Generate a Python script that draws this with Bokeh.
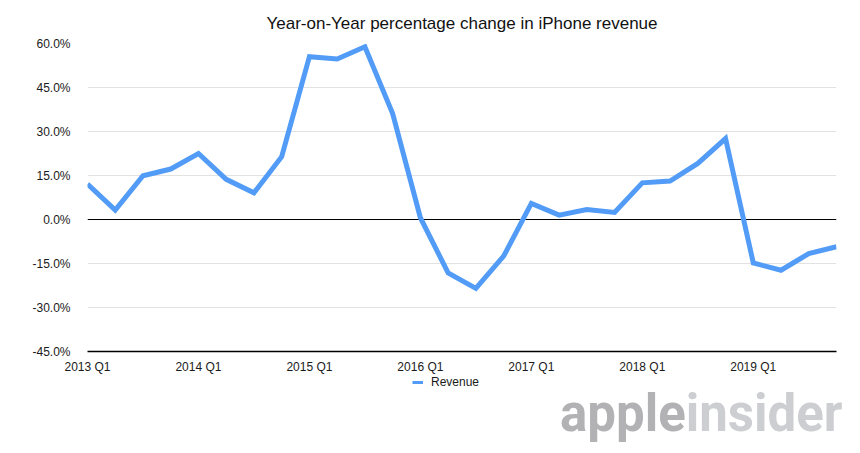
from bokeh.plotting import figure
from bokeh.models import (Range1d, FixedTicker, PrintfTickFormatter, Span,
                          Legend, LegendItem, ColumnDataSource, Div)
from bokeh.layouts import column
from bokeh.embed import file_html
from bokeh.resources import INLINE

title_text = "Year-on-Year percentage change in iPhone revenue"
series_name = "Revenue"
quarters = [
    "2013 Q1", "2013 Q2", "2013 Q3", "2013 Q4",
    "2014 Q1", "2014 Q2", "2014 Q3", "2014 Q4",
    "2015 Q1", "2015 Q2", "2015 Q3", "2015 Q4",
    "2016 Q1", "2016 Q2", "2016 Q3", "2016 Q4",
    "2017 Q1", "2017 Q2", "2017 Q3", "2017 Q4",
    "2018 Q1", "2018 Q2", "2018 Q3", "2018 Q4",
    "2019 Q1", "2019 Q2", "2019 Q3", "2019 Q4",
]
yoy_change = [12.1, 3.2, 14.9, 17.2, 22.5, 13.7, 9.1, 21.4,
              55.5, 54.7, 58.9, 36.1, 0.6, -18.2, -23.5, -12.5,
              5.5, 1.5, 3.4, 2.4, 12.5, 13.1, 19.1, 27.6,
              -14.8, -17.3, -11.6, -9.3]
x_tick_labels = ["2013 Q1", "2014 Q1", "2015 Q1", "2016 Q1", "2017 Q1", "2018 Q1", "2019 Q1"]
y_ticks = [-45, -30, -15, 0, 15, 30, 45, 60]
watermark_a = "apple"
watermark_b = "insider"

FONT = "Liberation Sans"
LINE_COLOR = "#529cf7"

src = ColumnDataSource(dict(x=list(range(len(quarters))), y=yoy_change, q=quarters))

# ---------------- main chart ----------------
p = figure(width=852, height=376, sizing_mode="fixed",
           min_border_left=87, min_border_right=16, min_border_top=43, min_border_bottom=22,
           x_range=Range1d(0, len(quarters) - 1), y_range=Range1d(min(y_ticks), max(y_ticks)),
           output_backend="svg", toolbar_location=None,
           background_fill_color="white", border_fill_color="white", outline_line_color=None)

p.title.text = title_text
p.title.align = "center"
p.title.standoff = 22
p.title.text_font = FONT
p.title.text_font_size = "17px"
p.title.text_font_style = "normal"
p.title.text_color = "#111111"

zero = Span(location=0, dimension="width", line_color="black", line_width=1, level="underlay")
p.add_layout(zero)

r = p.line("x", "y", source=src, line_color=LINE_COLOR, line_width=5, line_join="miter")

p.xaxis.ticker = FixedTicker(ticks=[quarters.index(t) for t in x_tick_labels])
p.xaxis.major_label_overrides = {quarters.index(t): t for t in x_tick_labels}
p.xaxis.axis_line_color = "black"
p.xaxis.axis_line_width = 1.5
p.xaxis.major_tick_line_color = None
p.xaxis.minor_tick_line_color = None
p.xaxis.major_tick_out = 0
p.xaxis.major_label_standoff = 8
p.xaxis.major_label_text_font = FONT
p.xaxis.major_label_text_font_size = "12px"
p.xaxis.major_label_text_color = "#1a1a1a"

p.yaxis.ticker = FixedTicker(ticks=y_ticks)
p.yaxis.formatter = PrintfTickFormatter(format="%.1f%%")
p.yaxis.axis_line_color = None
p.yaxis.major_tick_line_color = None
p.yaxis.minor_tick_line_color = None
p.yaxis.major_tick_out = 0
p.yaxis.major_label_standoff = 17
p.yaxis.major_label_text_font = FONT
p.yaxis.major_label_text_font_size = "12px"
p.yaxis.major_label_text_color = "#1a1a1a"

p.xgrid.grid_line_color = None
p.ygrid.ticker = FixedTicker(ticks=[t for t in y_ticks if t not in (0, min(y_ticks))])
p.ygrid.grid_line_color = "#e2e2e2"
p.ygrid.grid_line_width = 1

# ---------------- legend strip ----------------
f = figure(width=852, height=18, sizing_mode="fixed", title=None,
           min_border=0, min_border_left=87, min_border_right=16, min_border_top=0, min_border_bottom=0,
           x_range=Range1d(0, 1), y_range=Range1d(0, 1), x_axis_type=None, y_axis_type=None,
           output_backend="svg", toolbar_location=None,
           background_fill_color="white", border_fill_color="white", outline_line_color=None)

# legend key: same series style, kept outside the strip's visible range
key = f.line(x=[5, 6], y=[5, 5], line_color=LINE_COLOR, line_width=3)
legend = Legend(items=[LegendItem(label=series_name, renderers=[key])],
                location=(325, 5), orientation="horizontal",
                border_line_color=None, background_fill_alpha=0,
                padding=0, margin=0, spacing=0, glyph_width=11, glyph_height=12,
                label_standoff=8, label_height=12,
                label_text_font=FONT, label_text_font_size="12px", label_text_color="#1a1a1a")
f.add_layout(legend)

# ---------------- watermark ----------------
mark = Div(text=('<div style="padding-left:555px;white-space:nowrap;font-family:Roboto;'
                 'font-weight:bold;font-size:51px;line-height:30px">'
                 f'<span style="color:#b2b2b5">{watermark_a}</span>'
                 f'<span style="color:#cdced1">{watermark_b}</span></div>'),
           width=852, height=59, sizing_mode="fixed")

layout = column(p, f, mark, spacing=0, sizing_mode="fixed")

open("out.html", "w").write(file_html(layout, INLINE))
